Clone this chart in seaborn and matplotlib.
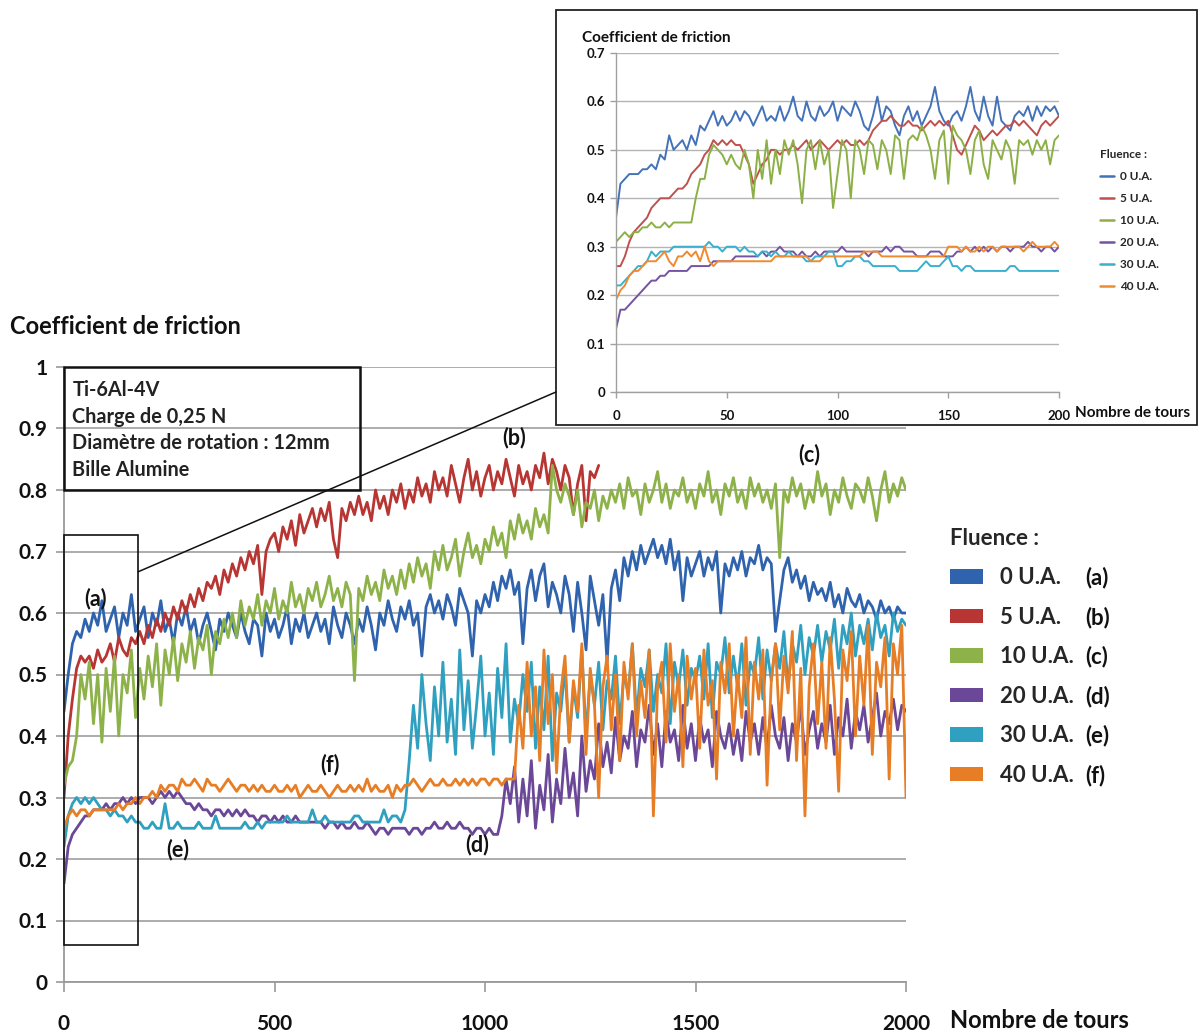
import numpy as np
import matplotlib
matplotlib.use("Agg")
import matplotlib.pyplot as plt
import seaborn as sns
from matplotlib.patches import Rectangle, Patch, ConnectionPatch
from matplotlib.lines import Line2D

# ---------------- DATA ----------------
series_labels = ["0 U.A.", "5 U.A.", "10 U.A.", "20 U.A.", "30 U.A.", "40 U.A."]
series_tags = ["(a)", "(b)", "(c)", "(d)", "(e)", "(f)"]
main_colors = ["#2F63AD", "#B73633", "#8DB24A", "#6B4798", "#2FA0BF", "#E77E26"]
inset_colors = ["#4472B8", "#C0504D", "#8CB045", "#7453A0", "#3BAFCB", "#F08A2E"]

# main chart: one value every 10 tours (0 .. 2000); (b) stops at 1270 tours
main_end = [2000, 1270, 2000, 2000, 2000, 2000]

cof_0ua = [
    0.44, 0.50, 0.55, 0.57, 0.56, 0.59, 0.57, 0.60, 0.58, 0.62,
    0.57, 0.59, 0.61, 0.56, 0.60, 0.58, 0.63, 0.57, 0.59, 0.61,
    0.56, 0.60, 0.58, 0.62, 0.57, 0.59, 0.55, 0.60, 0.58, 0.61,
    0.57, 0.59, 0.55, 0.58, 0.60, 0.57, 0.54, 0.59, 0.57, 0.60,
    0.58, 0.56, 0.60, 0.57, 0.55, 0.59, 0.58, 0.53, 0.60, 0.57,
    0.59, 0.56, 0.58, 0.61, 0.55, 0.59, 0.57, 0.60, 0.56, 0.58,
    0.60, 0.57, 0.59, 0.55, 0.61, 0.58, 0.56, 0.60, 0.58, 0.55,
    0.59, 0.57, 0.61, 0.58, 0.54, 0.60, 0.58, 0.62, 0.59, 0.57,
    0.61, 0.59, 0.62, 0.58, 0.60, 0.53, 0.61, 0.63, 0.60, 0.62,
    0.59, 0.63, 0.61, 0.58, 0.64, 0.62, 0.60, 0.53, 0.62, 0.60,
    0.63, 0.61, 0.65, 0.62, 0.66, 0.64, 0.67, 0.63, 0.65, 0.55,
    0.64, 0.67, 0.62, 0.66, 0.68, 0.61, 0.65, 0.63, 0.60, 0.66,
    0.63, 0.57, 0.65, 0.60, 0.54, 0.66, 0.62, 0.58, 0.63, 0.52,
    0.64, 0.67, 0.62, 0.69, 0.66, 0.70, 0.67, 0.71, 0.68, 0.70,
    0.72, 0.69, 0.71, 0.68, 0.72, 0.67, 0.70, 0.62, 0.69, 0.66,
    0.68, 0.70, 0.66, 0.69, 0.67, 0.70, 0.60, 0.68, 0.66, 0.69,
    0.67, 0.70, 0.66, 0.69, 0.68, 0.71, 0.67, 0.69, 0.68, 0.57,
    0.62, 0.67, 0.69, 0.65, 0.67, 0.64, 0.66, 0.62, 0.65, 0.63,
    0.64, 0.62, 0.65, 0.61, 0.63, 0.60, 0.64, 0.62, 0.61, 0.63,
    0.60, 0.62, 0.61, 0.59, 0.62, 0.60, 0.61, 0.59, 0.61, 0.60,
    0.60]

cof_5ua = [
    0.30, 0.40, 0.46, 0.51, 0.53, 0.52, 0.53, 0.51, 0.54, 0.52,
    0.53, 0.55, 0.52, 0.56, 0.54, 0.53, 0.56, 0.55, 0.57, 0.55,
    0.58, 0.56, 0.59, 0.57, 0.60, 0.58, 0.61, 0.59, 0.62, 0.60,
    0.63, 0.61, 0.64, 0.62, 0.65, 0.64, 0.66, 0.63, 0.67, 0.65,
    0.68, 0.66, 0.69, 0.67, 0.70, 0.68, 0.71, 0.63, 0.70, 0.72,
    0.73, 0.70, 0.74, 0.72, 0.75, 0.71, 0.76, 0.73, 0.75, 0.77,
    0.74, 0.77, 0.75, 0.78, 0.72, 0.69, 0.77, 0.75, 0.78, 0.76,
    0.79, 0.76, 0.78, 0.75, 0.80, 0.77, 0.79, 0.76, 0.80, 0.78,
    0.81, 0.77, 0.80, 0.78, 0.82, 0.79, 0.81, 0.78, 0.83, 0.80,
    0.82, 0.79, 0.84, 0.81, 0.78, 0.82, 0.85, 0.80, 0.83, 0.79,
    0.82, 0.84, 0.80, 0.83, 0.81, 0.85, 0.82, 0.79, 0.84, 0.81,
    0.83, 0.80, 0.84, 0.82, 0.86, 0.81, 0.85, 0.83, 0.80, 0.84,
    0.82, 0.76, 0.81, 0.84, 0.75, 0.83, 0.82, 0.84]

cof_10ua = [
    0.32, 0.35, 0.36, 0.40, 0.50, 0.46, 0.52, 0.42, 0.50, 0.39,
    0.51, 0.44, 0.53, 0.40, 0.50, 0.47, 0.54, 0.43, 0.51, 0.46,
    0.53, 0.48, 0.55, 0.45, 0.54, 0.50, 0.56, 0.49, 0.55, 0.52,
    0.57, 0.51, 0.56, 0.54, 0.58, 0.50, 0.57, 0.55, 0.59, 0.56,
    0.60, 0.56, 0.62, 0.58, 0.61, 0.59, 0.63, 0.58, 0.62, 0.60,
    0.64, 0.59, 0.62, 0.60, 0.65, 0.61, 0.63, 0.60, 0.64, 0.62,
    0.65, 0.61, 0.63, 0.66, 0.62, 0.64, 0.61, 0.65, 0.63, 0.49,
    0.64, 0.62, 0.66, 0.63, 0.65, 0.62, 0.67, 0.64, 0.66, 0.63,
    0.67, 0.64, 0.68, 0.65, 0.69, 0.66, 0.68, 0.64, 0.70, 0.67,
    0.71, 0.67, 0.69, 0.72, 0.66, 0.70, 0.73, 0.69, 0.71, 0.68,
    0.72, 0.70, 0.74, 0.71, 0.73, 0.69, 0.75, 0.72, 0.76, 0.73,
    0.75, 0.72, 0.77, 0.74, 0.76, 0.73, 0.84, 0.80, 0.78, 0.81,
    0.79, 0.76, 0.80, 0.74, 0.78, 0.77, 0.80, 0.75, 0.79, 0.77,
    0.80, 0.78, 0.81, 0.77, 0.82, 0.79, 0.80, 0.76, 0.81, 0.78,
    0.80, 0.83, 0.78, 0.81, 0.77, 0.80, 0.79, 0.82, 0.78, 0.80,
    0.77, 0.81, 0.79, 0.83, 0.78, 0.80, 0.76, 0.81, 0.79, 0.82,
    0.78, 0.80, 0.77, 0.82, 0.79, 0.81, 0.78, 0.80, 0.77, 0.81,
    0.69, 0.80, 0.78, 0.82, 0.79, 0.81, 0.77, 0.80, 0.78, 0.83,
    0.79, 0.81, 0.76, 0.80, 0.78, 0.82, 0.79, 0.77, 0.81, 0.80,
    0.78, 0.82, 0.79, 0.75, 0.80, 0.83, 0.78, 0.81, 0.79, 0.82,
    0.80]

cof_20ua = [
    0.16, 0.22, 0.24, 0.25, 0.26, 0.27, 0.27, 0.28, 0.28, 0.28,
    0.29, 0.28, 0.29, 0.29, 0.30, 0.29, 0.30, 0.29, 0.30, 0.30,
    0.30, 0.29, 0.30, 0.31, 0.30, 0.31, 0.30, 0.31, 0.30, 0.29,
    0.29, 0.28, 0.29, 0.28, 0.28, 0.27, 0.28, 0.28, 0.27, 0.28,
    0.27, 0.28, 0.27, 0.28, 0.27, 0.27, 0.26, 0.27, 0.27, 0.26,
    0.27, 0.26, 0.27, 0.26, 0.26, 0.27, 0.26, 0.26, 0.26, 0.26,
    0.26, 0.26, 0.25, 0.26, 0.26, 0.25, 0.26, 0.25, 0.25, 0.26,
    0.25, 0.25, 0.26, 0.25, 0.24, 0.25, 0.25, 0.24, 0.25, 0.25,
    0.25, 0.25, 0.24, 0.25, 0.25, 0.24, 0.25, 0.25, 0.26, 0.25,
    0.25, 0.26, 0.25, 0.25, 0.26, 0.25, 0.25, 0.24, 0.25, 0.25,
    0.24, 0.25, 0.24, 0.24, 0.27, 0.33, 0.29, 0.35, 0.26, 0.33,
    0.27, 0.36, 0.25, 0.32, 0.28, 0.37, 0.26, 0.33, 0.29, 0.38,
    0.30, 0.34, 0.27, 0.40, 0.31, 0.36, 0.33, 0.42, 0.35, 0.39,
    0.34, 0.43, 0.36, 0.40, 0.38, 0.44, 0.35, 0.41, 0.39, 0.45,
    0.37, 0.42, 0.35, 0.44, 0.39, 0.41, 0.36, 0.45, 0.38, 0.42,
    0.36, 0.43, 0.39, 0.41, 0.35, 0.44, 0.40, 0.38, 0.42, 0.37,
    0.41, 0.36, 0.44, 0.39, 0.42, 0.37, 0.43, 0.38, 0.45, 0.40,
    0.38, 0.43, 0.36, 0.42, 0.39, 0.45, 0.37, 0.41, 0.44, 0.38,
    0.42, 0.39, 0.45, 0.37, 0.43, 0.40, 0.46, 0.38, 0.44, 0.41,
    0.45, 0.39, 0.43, 0.47, 0.40, 0.44, 0.42, 0.46, 0.41, 0.45,
    0.44]

cof_30ua = [
    0.22, 0.27, 0.29, 0.30, 0.29, 0.30, 0.29, 0.30, 0.29, 0.28,
    0.28, 0.27, 0.28, 0.27, 0.27, 0.26, 0.27, 0.26, 0.26, 0.25,
    0.25, 0.26, 0.25, 0.25, 0.29, 0.25, 0.25, 0.26, 0.25, 0.25,
    0.25, 0.25, 0.26, 0.25, 0.25, 0.25, 0.27, 0.25, 0.25, 0.25,
    0.25, 0.25, 0.25, 0.26, 0.25, 0.25, 0.26, 0.25, 0.26, 0.26,
    0.26, 0.26, 0.26, 0.27, 0.26, 0.26, 0.26, 0.26, 0.26, 0.28,
    0.26, 0.26, 0.27, 0.26, 0.26, 0.26, 0.26, 0.26, 0.26, 0.27,
    0.27, 0.26, 0.26, 0.26, 0.26, 0.26, 0.28, 0.26, 0.27, 0.27,
    0.26, 0.28, 0.36, 0.45, 0.38, 0.50, 0.42, 0.36, 0.48, 0.40,
    0.52, 0.39, 0.46, 0.37, 0.54, 0.41, 0.49, 0.38, 0.45, 0.53,
    0.40, 0.47, 0.37, 0.51, 0.43, 0.55, 0.39, 0.46, 0.42, 0.50,
    0.44, 0.52, 0.38, 0.48, 0.41, 0.53, 0.36, 0.47, 0.44, 0.51,
    0.39, 0.48, 0.43, 0.54, 0.40, 0.50, 0.45, 0.52, 0.41, 0.49,
    0.46, 0.53, 0.42, 0.50, 0.47, 0.55, 0.43, 0.51, 0.48, 0.54,
    0.44, 0.50, 0.47, 0.55, 0.42, 0.52, 0.48, 0.54, 0.45, 0.51,
    0.49, 0.53, 0.46, 0.55, 0.43, 0.52, 0.50, 0.56, 0.47, 0.53,
    0.48, 0.55, 0.45, 0.52, 0.50, 0.56, 0.46, 0.54, 0.49, 0.55,
    0.51, 0.57, 0.48, 0.55, 0.52, 0.58, 0.50, 0.56, 0.53, 0.58,
    0.52, 0.57, 0.54, 0.59, 0.51, 0.58, 0.55, 0.60, 0.53, 0.58,
    0.55, 0.59, 0.54, 0.60, 0.56, 0.58, 0.53, 0.60, 0.57, 0.59,
    0.58]

cof_40ua = [
    0.25, 0.27, 0.28, 0.27, 0.28, 0.28, 0.27, 0.28, 0.28, 0.28,
    0.28, 0.28, 0.28, 0.29, 0.28, 0.29, 0.29, 0.30, 0.29, 0.30,
    0.30, 0.31, 0.30, 0.32, 0.31, 0.32, 0.32, 0.31, 0.33, 0.32,
    0.32, 0.33, 0.32, 0.31, 0.33, 0.32, 0.32, 0.31, 0.32, 0.33,
    0.32, 0.31, 0.32, 0.32, 0.31, 0.32, 0.31, 0.32, 0.31, 0.31,
    0.32, 0.31, 0.31, 0.32, 0.31, 0.32, 0.30, 0.31, 0.32, 0.31,
    0.31, 0.32, 0.31, 0.30, 0.31, 0.32, 0.31, 0.31, 0.32, 0.31,
    0.32, 0.31, 0.33, 0.31, 0.32, 0.31, 0.31, 0.32, 0.30, 0.32,
    0.31, 0.32, 0.32, 0.33, 0.32, 0.31, 0.32, 0.33, 0.32, 0.32,
    0.33, 0.32, 0.32, 0.33, 0.32, 0.33, 0.32, 0.33, 0.32, 0.33,
    0.33, 0.32, 0.33, 0.33, 0.32, 0.33, 0.33, 0.33, 0.45, 0.38,
    0.52, 0.40, 0.48, 0.36, 0.54, 0.42, 0.50, 0.34, 0.47, 0.53,
    0.39, 0.49, 0.44, 0.55, 0.37, 0.51, 0.45, 0.30, 0.48, 0.53,
    0.41, 0.50, 0.36, 0.52, 0.46, 0.55, 0.40, 0.49, 0.43, 0.54,
    0.27, 0.48, 0.52, 0.39, 0.55, 0.44, 0.50, 0.35, 0.53, 0.46,
    0.51, 0.38, 0.54, 0.45, 0.49, 0.33, 0.52, 0.47, 0.55, 0.40,
    0.50, 0.43, 0.56, 0.37, 0.52, 0.46, 0.54, 0.32, 0.49, 0.55,
    0.41, 0.53, 0.47, 0.57, 0.36, 0.51, 0.27, 0.48, 0.55, 0.42,
    0.52, 0.38, 0.56, 0.46, 0.31, 0.54, 0.49, 0.57, 0.40, 0.53,
    0.45, 0.58, 0.37, 0.52, 0.48, 0.56, 0.33, 0.55, 0.50, 0.58,
    0.30]

# inset: one value every 2 tours (0 .. 200)
inset_0ua = [
    0.36, 0.43, 0.44, 0.45, 0.45, 0.45, 0.46, 0.46, 0.47, 0.46,
    0.49, 0.48, 0.53, 0.50, 0.51, 0.52, 0.50, 0.53, 0.51, 0.55,
    0.54, 0.56, 0.58, 0.55, 0.57, 0.55, 0.56, 0.58, 0.56, 0.58,
    0.57, 0.55, 0.57, 0.59, 0.56, 0.57, 0.56, 0.59, 0.56, 0.58,
    0.61, 0.57, 0.56, 0.60, 0.57, 0.56, 0.59, 0.57, 0.58, 0.60,
    0.56, 0.59, 0.58, 0.57, 0.60, 0.58, 0.55, 0.54, 0.57, 0.61,
    0.56, 0.59, 0.58, 0.55, 0.53, 0.57, 0.59, 0.56, 0.58, 0.55,
    0.57, 0.59, 0.63, 0.58, 0.56, 0.55, 0.57, 0.58, 0.56, 0.59,
    0.63, 0.58, 0.56, 0.61, 0.57, 0.55, 0.61, 0.56, 0.55, 0.54,
    0.57, 0.58, 0.57, 0.59, 0.56, 0.59, 0.57, 0.59, 0.58, 0.59,
    0.57]
inset_5ua = [
    0.26, 0.26, 0.28, 0.31, 0.33, 0.34, 0.35, 0.36, 0.38, 0.39,
    0.40, 0.40, 0.40, 0.41, 0.42, 0.42, 0.43, 0.45, 0.46, 0.47,
    0.49, 0.50, 0.52, 0.51, 0.52, 0.51, 0.52, 0.51, 0.51, 0.49,
    0.47, 0.43, 0.45, 0.47, 0.48, 0.50, 0.50, 0.49, 0.50, 0.50,
    0.51, 0.50, 0.51, 0.52, 0.50, 0.51, 0.52, 0.51, 0.50, 0.51,
    0.52, 0.51, 0.52, 0.51, 0.51, 0.52, 0.51, 0.52, 0.54, 0.55,
    0.56, 0.56, 0.57, 0.56, 0.55, 0.55, 0.56, 0.55, 0.55, 0.54,
    0.55, 0.56, 0.55, 0.56, 0.55, 0.56, 0.53, 0.50, 0.49, 0.51,
    0.53, 0.55, 0.54, 0.52, 0.53, 0.54, 0.53, 0.54, 0.55, 0.55,
    0.56, 0.55, 0.56, 0.55, 0.54, 0.53, 0.55, 0.56, 0.55, 0.56,
    0.57]
inset_10ua = [
    0.31, 0.32, 0.33, 0.32, 0.33, 0.33, 0.34, 0.34, 0.35, 0.34,
    0.34, 0.35, 0.34, 0.35, 0.35, 0.35, 0.35, 0.35, 0.40, 0.44,
    0.44, 0.49, 0.51, 0.50, 0.49, 0.47, 0.49, 0.47, 0.46, 0.50,
    0.47, 0.40, 0.50, 0.44, 0.52, 0.43, 0.50, 0.45, 0.52, 0.49,
    0.52, 0.47, 0.39, 0.50, 0.52, 0.46, 0.52, 0.47, 0.50, 0.38,
    0.45, 0.52, 0.50, 0.40, 0.52, 0.50, 0.45, 0.52, 0.51, 0.46,
    0.52, 0.50, 0.45, 0.53, 0.52, 0.44, 0.52, 0.53, 0.52, 0.55,
    0.53, 0.50, 0.44, 0.52, 0.54, 0.43, 0.55, 0.53, 0.52, 0.50,
    0.45, 0.52, 0.54, 0.47, 0.44, 0.52, 0.50, 0.48, 0.52, 0.50,
    0.43, 0.52, 0.51, 0.52, 0.49, 0.52, 0.50, 0.52, 0.47, 0.52,
    0.53]
inset_20ua = [
    0.13, 0.17, 0.17, 0.18, 0.19, 0.20, 0.21, 0.22, 0.23, 0.23,
    0.24, 0.24, 0.25, 0.25, 0.25, 0.25, 0.25, 0.26, 0.26, 0.26,
    0.26, 0.26, 0.27, 0.27, 0.27, 0.27, 0.27, 0.28, 0.28, 0.28,
    0.28, 0.28, 0.28, 0.29, 0.28, 0.29, 0.29, 0.30, 0.29, 0.29,
    0.29, 0.28, 0.29, 0.28, 0.28, 0.29, 0.28, 0.29, 0.29, 0.29,
    0.29, 0.30, 0.29, 0.29, 0.29, 0.29, 0.29, 0.28, 0.29, 0.29,
    0.29, 0.30, 0.29, 0.30, 0.30, 0.29, 0.29, 0.29, 0.28, 0.28,
    0.28, 0.29, 0.29, 0.29, 0.28, 0.28, 0.28, 0.29, 0.29, 0.30,
    0.29, 0.30, 0.29, 0.30, 0.29, 0.30, 0.29, 0.30, 0.30, 0.29,
    0.30, 0.30, 0.30, 0.31, 0.30, 0.30, 0.29, 0.30, 0.30, 0.29,
    0.30]
inset_30ua = [
    0.22, 0.22, 0.23, 0.24, 0.25, 0.26, 0.26, 0.27, 0.29, 0.28,
    0.29, 0.29, 0.29, 0.30, 0.30, 0.30, 0.30, 0.30, 0.30, 0.30,
    0.30, 0.31, 0.30, 0.30, 0.29, 0.30, 0.30, 0.30, 0.29, 0.30,
    0.29, 0.29, 0.28, 0.29, 0.29, 0.28, 0.29, 0.28, 0.28, 0.29,
    0.28, 0.28, 0.28, 0.27, 0.27, 0.28, 0.28, 0.28, 0.29, 0.29,
    0.26, 0.26, 0.27, 0.27, 0.28, 0.28, 0.27, 0.27, 0.26, 0.26,
    0.26, 0.26, 0.26, 0.26, 0.25, 0.25, 0.25, 0.25, 0.25, 0.26,
    0.27, 0.26, 0.26, 0.26, 0.27, 0.28, 0.26, 0.26, 0.25, 0.26,
    0.26, 0.25, 0.25, 0.25, 0.25, 0.25, 0.25, 0.25, 0.25, 0.26,
    0.26, 0.25, 0.25, 0.25, 0.25, 0.25, 0.25, 0.25, 0.25, 0.25,
    0.25]
inset_40ua = [
    0.19, 0.21, 0.22, 0.24, 0.25, 0.25, 0.26, 0.27, 0.27, 0.27,
    0.28, 0.29, 0.27, 0.26, 0.28, 0.28, 0.29, 0.28, 0.29, 0.27,
    0.30, 0.27, 0.26, 0.27, 0.27, 0.27, 0.27, 0.27, 0.27, 0.27,
    0.27, 0.27, 0.27, 0.27, 0.27, 0.27, 0.28, 0.28, 0.28, 0.28,
    0.28, 0.28, 0.28, 0.28, 0.27, 0.27, 0.27, 0.28, 0.28, 0.28,
    0.28, 0.28, 0.28, 0.28, 0.28, 0.28, 0.29, 0.29, 0.29, 0.29,
    0.28, 0.28, 0.28, 0.28, 0.28, 0.28, 0.28, 0.28, 0.28, 0.28,
    0.28, 0.28, 0.28, 0.28, 0.28, 0.30, 0.30, 0.30, 0.29, 0.30,
    0.29, 0.29, 0.30, 0.29, 0.30, 0.30, 0.29, 0.30, 0.30, 0.30,
    0.30, 0.30, 0.29, 0.30, 0.31, 0.30, 0.30, 0.30, 0.30, 0.31,
    0.30]

main_series = [cof_0ua, cof_5ua, cof_10ua, cof_20ua, cof_30ua, cof_40ua]
inset_series = [inset_0ua, inset_5ua, inset_10ua, inset_20ua, inset_30ua, inset_40ua]

main_yticks = [0, 0.1, 0.2, 0.3, 0.4, 0.5, 0.6, 0.7, 0.8, 0.9, 1]
main_ytick_labels = ["0", "0.1", "0.2", "0.3", "0.4", "0.5", "0.6", "0.7", "0.8", "0.9", "1"]
main_xticks = [0, 500, 1000, 1500, 2000]
inset_yticks = [0, 0.1, 0.2, 0.3, 0.4, 0.5, 0.6, 0.7]
inset_xticks = [0, 50, 100, 150, 200]

info_lines = ["Ti-6Al-4V", "Charge de 0,25 N", "Diamètre de rotation : 12mm", "Bille Alumine"]

# ---------------- STYLE ----------------
sns.set_style("white")
plt.rcParams['font.family'] = ['Lato', 'DejaVu Sans']

W, H = 1198, 1033
def fx(px):
    return px / W
def fy(py):
    return 1 - py / H

fig = plt.figure(figsize=(W / 100, H / 100), dpi=100)
fig.patch.set_facecolor("white")

# ---------------- MAIN AXES ----------------
ax = fig.add_axes([fx(64), fy(982), fx(906) - fx(64), fy(367) - fy(982)], zorder=0)
ax.patch.set_alpha(0)
for vals, end, col in zip(main_series, main_end, main_colors):
    x = np.linspace(0, end, len(vals))
    sns.lineplot(x=x, y=np.array(vals), ax=ax, color=col, lw=2.0,
                 estimator=None, sort=False, legend=False)

ax.set_xlim(0, 2000)
ax.set_ylim(0, 1)
ax.set_yticks(main_yticks)
ax.set_yticklabels(main_ytick_labels)
ax.set_xticks(main_xticks)
ax.set_xticklabels([str(t) for t in main_xticks])
ax.yaxis.grid(True, color="#a6a6a6", lw=1.3)
ax.xaxis.grid(False)
ax.set_axisbelow(True)
for s in ["top", "right"]:
    ax.spines[s].set_visible(False)
for s in ["left", "bottom"]:
    ax.spines[s].set_color("#9a9a9a")
    ax.spines[s].set_linewidth(1.3)
ax.tick_params(axis="y", left=True, length=6, width=1.2, color="#9a9a9a", pad=6,
               labelsize=15)
ax.tick_params(axis="x", bottom=True, length=7, width=1.2, color="#9a9a9a", pad=16,
               labelsize=15)
for lab in ax.get_xticklabels() + ax.get_yticklabels():
    lab.set_fontweight("bold")
    lab.set_color("#111111")
ax.set_xlabel("")
ax.set_ylabel("")

fig.text(fx(10), fy(326), "Coefficient de friction", fontsize=17, fontweight="bold",
         ha="left", va="center", color="#111111")
fig.text(fx(950), fy(1020), "Nombre de tours", fontsize=17, fontweight="bold",
         ha="left", va="center", color="#111111")

# info box
ax.add_patch(Rectangle((0, 0.80), 702, 0.20, fill=False, edgecolor="#111111", lw=1.8,
                       clip_on=False, zorder=5))
for i, line in enumerate(info_lines):
    ax.text(20, 0.963 - i * 0.0435, line, fontsize=14.3, fontweight="bold", color="#222222",
            ha="left", va="center", zorder=6)

# zoom rectangle
ax.add_patch(Rectangle((0, 0.06), 176, 0.667, fill=False, edgecolor="#111111", lw=1.2,
                       clip_on=False, zorder=5))

# series tags on the curves
tag_pos = [(74, 0.624), (1070, 0.886), (1770, 0.857), (982, 0.223), (270, 0.215), (631, 0.353)]
for tag, (tx, ty) in zip(series_tags, tag_pos):
    ax.text(tx, ty, tag, fontsize=15.5, fontweight="bold", color="#111111",
            ha="center", va="center", zorder=6)

# main legend
handles = [Patch(facecolor=c, edgecolor="none") for c in main_colors]
leg = fig.legend(handles, series_labels, title="Fluence :", loc="upper left",
                 bbox_to_anchor=(fx(950), fy(528)), frameon=False, fontsize=16,
                 title_fontsize=16, handlelength=1.49, handleheight=0.63,
                 labelspacing=0.83, handletextpad=0.75, alignment="left",
                 borderaxespad=0, borderpad=0)
leg.get_title().set_fontweight("bold")
for t in leg.get_texts():
    t.set_fontweight("bold")

# ---------------- INSET ----------------
fig.add_artist(Rectangle((fx(556), fy(425)), fx(1197) - fx(556), fy(10) - fy(425),
                         transform=fig.transFigure, facecolor="white",
                         edgecolor="#222222", lw=1.3, zorder=1))

ax2 = fig.add_axes([fx(616), fy(392), fx(1059) - fx(616), fy(53) - fy(392)], zorder=2)
ax2.patch.set_alpha(0)
for vals, col in zip(inset_series, inset_colors):
    x = np.linspace(0, 200, len(vals))
    sns.lineplot(x=x, y=np.array(vals), ax=ax2, color=col, lw=1.4,
                 estimator=None, sort=False, legend=False)
ax2.set_xlim(0, 200)
ax2.set_ylim(0, 0.7)
ax2.set_yticks(inset_yticks)
ax2.set_yticklabels(["0", "0.1", "0.2", "0.3", "0.4", "0.5", "0.6", "0.7"])
ax2.set_xticks(inset_xticks)
ax2.set_xticklabels([str(t) for t in inset_xticks])
ax2.yaxis.grid(True, color="#b4b4b4", lw=1.0)
ax2.xaxis.grid(False)
ax2.set_axisbelow(True)
for s in ["top", "right"]:
    ax2.spines[s].set_visible(False)
for s in ["left", "bottom"]:
    ax2.spines[s].set_color("#a0a0a0")
    ax2.spines[s].set_linewidth(1.0)
ax2.tick_params(axis="y", left=True, length=4, width=1, color="#a0a0a0", pad=4, labelsize=9.5)
ax2.tick_params(axis="x", bottom=True, length=4, width=1, color="#a0a0a0", pad=9, labelsize=9.5)
for lab in ax2.get_xticklabels() + ax2.get_yticklabels():
    lab.set_fontweight("bold")
    lab.set_color("#111111")
ax2.set_xlabel("")
ax2.set_ylabel("")

fig.text(fx(582), fy(38), "Coefficient de friction", fontsize=11, fontweight="bold",
         ha="left", va="center", color="#111111", zorder=3)
fig.text(fx(1075), fy(413), "Nombre de tours", fontsize=11, fontweight="bold",
         ha="left", va="center", color="#111111", zorder=3)

ihandles = [Line2D([0], [0], color=c, lw=1.8) for c in inset_colors]
leg2 = fig.legend(ihandles, series_labels, title="Fluence :", loc="upper left",
                  bbox_to_anchor=(fx(1100), fy(149)), frameon=False, fontsize=8.5,
                  title_fontsize=8.5, handlelength=1.2, labelspacing=0.93,
                  handletextpad=0.5, alignment="left", borderaxespad=0, borderpad=0)
leg2.set_zorder(3)
leg2.get_title().set_fontweight("bold")
for t in leg2.get_texts():
    t.set_fontweight("bold")

# connector from zoom rectangle to inset
con = ConnectionPatch(xyA=(176, 0.667), coordsA=ax.transData,
                      xyB=(fx(556), fy(392)), coordsB=fig.transFigure,
                      color="#111111", lw=1.1, zorder=1.5)
fig.add_artist(con)

# tags next to the main legend entries
fig.canvas.draw()
for t, tag in zip(leg.get_texts(), series_tags):
    bb = t.get_window_extent()
    yc = (bb.y0 + bb.y1) / 2 / fig.bbox.height
    fig.text(fx(1085), yc, tag, fontsize=16, fontweight="bold", color="#111111",
             ha="left", va="center")

fig.savefig("out.png", dpi=100, facecolor="white")
